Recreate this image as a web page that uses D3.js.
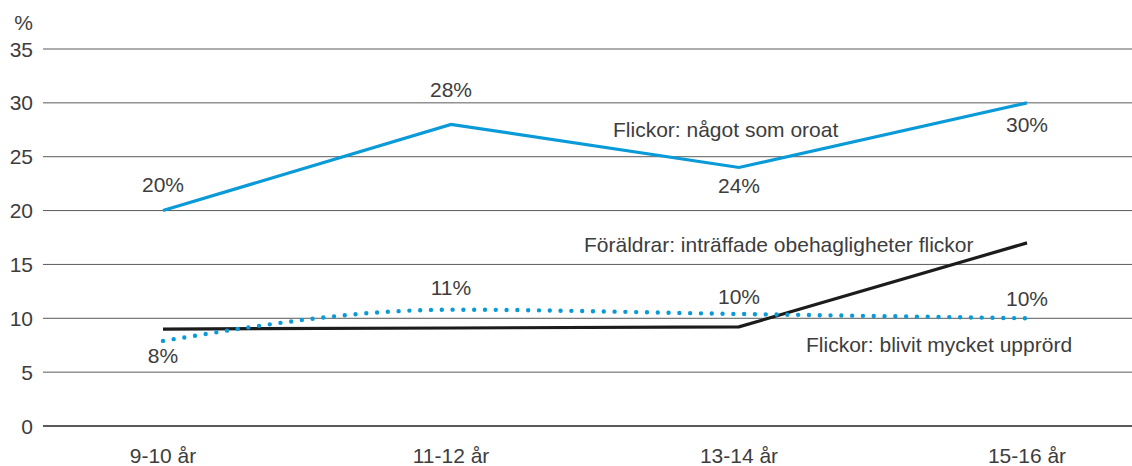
<!DOCTYPE html>
<html>
<head>
<meta charset="utf-8">
<script src="https://cdn.jsdelivr.net/npm/d3@7"></script>
<style>
  body { margin: 0; background: #fff; }
  svg text { font-family: "Liberation Sans", Arial, Helvetica, sans-serif; font-size: 21px; fill: #3d3d3d; }
</style>
</head>
<body>
<svg id="chart" width="1132" height="466"></svg>
<script>
// dati
const ageGroups = ["9-10 år", "11-12 år", "13-14 år", "15-16 år"];
const yTicks = [0, 5, 10, 15, 20, 25, 30, 35];

const oroat = [20, 28, 24, 30];            // Flickor: något som oroat
const upprord = [7.9, 10.8, 10.4, 10.0];   // Flickor: blivit mycket upprörd
const foraldrar = [9.0, 9.1, 9.2, 17.0];   // Föräldrar: inträffade obehagligheter flickor

const oroatLabels = ["20%", "28%", "24%", "30%"];
const upprordLabels = ["8%", "11%", "10%", "10%"];

const seriesNames = ["Flickor: något som oroat", "Föräldrar: inträffade obehagligheter flickor", "Flickor: blivit mycket upprörd"];

// layout
const width = 1132, height = 466;
const blue = "#0a9ad7", black = "#1c1c1c", grid = "#5a5a5a";

const svg = d3.select("#chart");

const x = d3.scalePoint().domain(ageGroups).range([163, 1027]);
const y = d3.scaleLinear().domain([0, 35]).range([426, 49]);

//griglia orizzontale
svg.selectAll("line.grid")
  .data(yTicks)
  .join("line")
  .attr("class", "grid")
  .attr("x1", 43).attr("x2", width)
  .attr("y1", d => y(d)).attr("y2", d => y(d))
  .attr("stroke", grid)
  .attr("stroke-width", d => d === 0 ? 2 : 1);

svg.selectAll("text.ytick")
  .data(yTicks)
  .join("text")
  .attr("class", "ytick")
  .attr("x", 33)
  .attr("y", d => y(d))
  .attr("dy", "0.36em")
  .attr("text-anchor", "end")
  .text(d => d);

svg.append("text")
  .attr("x", 33).attr("y", 22).attr("dy", "0.36em")
  .attr("text-anchor", "end")
  .text("%");

svg.selectAll("text.xtick")
  .data(ageGroups)
  .join("text")
  .attr("class", "xtick")
  .attr("x", d => x(d))
  .attr("y", 455).attr("dy", "0.36em")
  .attr("text-anchor", "middle")
  .text(d => d);

const line = d3.line()
  .x((d, i) => x(ageGroups[i]))
  .y(d => y(d));

svg.append("path")
  .attr("d", line(oroat))
  .attr("fill", "none")
  .attr("stroke", blue)
  .attr("stroke-width", 3.2);

svg.append("path")
  .attr("d", line(foraldrar))
  .attr("fill", "none")
  .attr("stroke", black)
  .attr("stroke-width", 3.2);

svg.append("path")
  .attr("d", line.curve(d3.curveMonotoneX)(upprord))
  .attr("fill", "none")
  .attr("stroke", blue)
  .attr("stroke-width", 4.4)
  .attr("stroke-linecap", "round")
  .attr("stroke-dasharray", "0 10.8");

//etichette valori (spostamento verticale rispetto al punto)
const oroatOffset = [-26, -35, 17.5, 22];
const upprordOffset = [15, -22, -18, -20];

svg.selectAll("text.lbl-oroat")
  .data(oroat)
  .join("text")
  .attr("class", "lbl-oroat")
  .attr("x", (d, i) => x(ageGroups[i]))
  .attr("y", (d, i) => y(d) + oroatOffset[i])
  .attr("dy", "0.36em")
  .attr("text-anchor", "middle")
  .text((d, i) => oroatLabels[i]);

svg.selectAll("text.lbl-upprord")
  .data(upprord)
  .join("text")
  .attr("class", "lbl-upprord")
  .attr("x", (d, i) => x(ageGroups[i]))
  .attr("y", (d, i) => y(d) + upprordOffset[i])
  .attr("dy", "0.36em")
  .attr("text-anchor", "middle")
  .text((d, i) => upprordLabels[i]);

// nomi delle serie
const namePos = [[613, 129.5], [584, 244], [806, 344]];
svg.selectAll("text.series")
  .data(seriesNames)
  .join("text")
  .attr("class", "series")
  .attr("x", (d, i) => namePos[i][0])
  .attr("y", (d, i) => namePos[i][1])
  .attr("dy", "0.36em")
  .text(d => d);
</script>
</body>
</html>
